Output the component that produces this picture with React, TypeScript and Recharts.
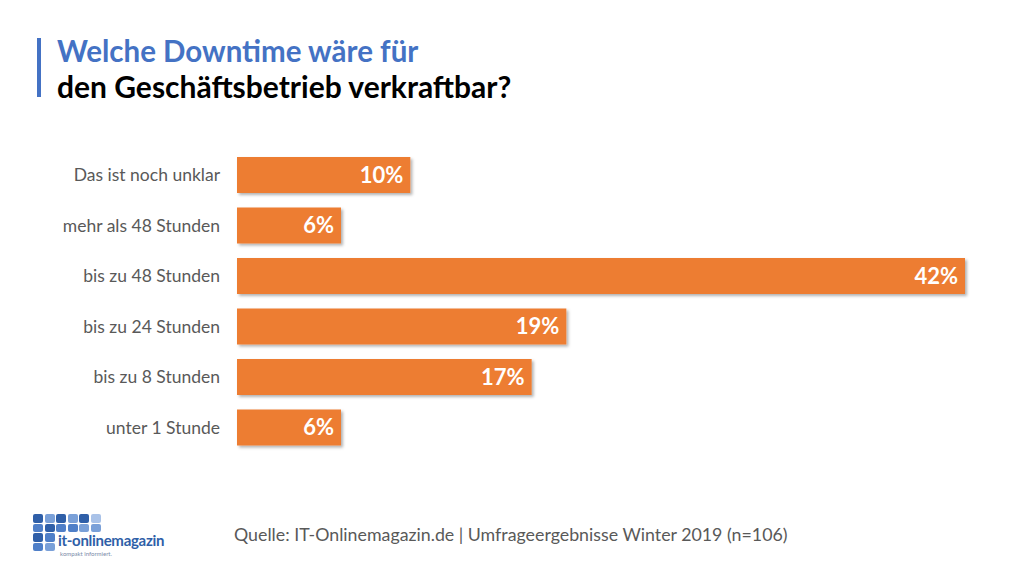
import { BarChart, Bar, XAxis, YAxis, LabelList } from "recharts";

const categories = [
  "Das ist noch unklar",
  "mehr als 48 Stunden",
  "bis zu 48 Stunden",
  "bis zu 24 Stunden",
  "bis zu 8 Stunden",
  "unter 1 Stunde",
];
const shares = [10, 6, 42, 19, 17, 6];

const data = categories.map((name, i) => ({ name, value: shares[i] }));

const FONT = "Lato, 'Open Sans', sans-serif";

// logo square shades, row by row
const logoRows = [
  ["#2f5fa8", "#7aa0d8", "#2f5fa8", "#7aa0d8", "#2f5fa8", "#a9c2e8"],
  ["#4f7fc8", "#2f5fa8", "#4f7fc8", "#4f7fc8", "#7aa0d8", "#7aa0d8"],
  ["#2f5fa8", "#4f7fc8"],
  ["#4f7fc8", "#7aa0d8"],
];

const Logo = () => (
  <div style={{ position: "absolute", left: 33, top: 514, width: 140, height: 44 }}>
    {logoRows.map((row, r) =>
      row.map((c, i) => (
        <div
          key={r + "-" + i}
          style={{
            position: "absolute",
            left: i * 11.5,
            top: r * 9.5,
            width: 10,
            height: 8.5,
            borderRadius: 2,
            background: c,
          }}
        />
      ))
    )}
    <div
      style={{
        position: "absolute",
        left: 25,
        top: 17,
        fontFamily: FONT,
        fontWeight: 700,
        fontSize: 15,
        color: "#2f5fa8",
        letterSpacing: -0.3,
        whiteSpace: "nowrap",
      }}
    >
      it-onlinemagazin
    </div>
    <div
      style={{
        position: "absolute",
        left: 27,
        top: 36,
        fontFamily: FONT,
        fontSize: 6,
        color: "#7a8aa8",
        whiteSpace: "nowrap",
      }}
    >
      kompakt informiert.
    </div>
  </div>
);

export default function App() {
  return (
    <div
      style={{
        position: "absolute",
        left: 0,
        top: 0,
        width: 1024,
        height: 576,
        background: "#ffffff",
        overflow: "hidden",
      }}
    >
      <div
        style={{
          position: "absolute",
          left: 37,
          top: 38,
          width: 4,
          height: 59,
          background: "#4472c4",
        }}
      />
      <div
        style={{
          position: "absolute",
          left: 57,
          top: 32,
          fontFamily: FONT,
          fontWeight: 700,
          fontSize: 29.5,
          lineHeight: "37px",
          color: "#4472c4",
          whiteSpace: "nowrap",
        }}
      >
        Welche Downtime wäre für
      </div>
      <div
        style={{
          position: "absolute",
          left: 57,
          top: 68,
          fontFamily: FONT,
          fontWeight: 700,
          fontSize: 30,
          lineHeight: "37px",
          color: "#000000",
          whiteSpace: "nowrap",
        }}
      >
        den Geschäftsbetrieb verkraftbar?
      </div>

      <div style={{ position: "absolute", left: 0, top: 0 }}>
        <BarChart
          width={1024}
          height={576}
          data={data}
          layout="vertical"
          barSize={36}
          margin={{ top: 150, right: 59, bottom: 123, left: 0 }}
        >
          <defs>
            <filter id="barShadow" x="-5%" y="-20%" width="110%" height="150%">
              <feDropShadow dx="2" dy="2" stdDeviation="1.5" floodColor="#000" floodOpacity="0.3" />
            </filter>
          </defs>
          <XAxis type="number" domain={[0, 42]} hide />
          <YAxis
            type="category"
            dataKey="name"
            width={237}
            axisLine={false}
            tickLine={false}
            tickSize={0}
            tickMargin={17}
            tick={{ fill: "#595959", fontSize: 17.5, fontFamily: FONT }}
          />
          <Bar
            dataKey="value"
            fill="#ed7d31"
            isAnimationActive={false}
            style={{ filter: "url(#barShadow)" }}
          >
            <LabelList
              dataKey="value"
              position="insideRight"
              offset={7}
              formatter={(v: number) => `${v}%`}
              fill="#ffffff"
              fontSize={22}
              fontWeight={700}
              fontFamily={FONT}
            />
          </Bar>
        </BarChart>
      </div>

      <Logo />
      <div
        style={{
          position: "absolute",
          left: 234,
          top: 523,
          fontFamily: FONT,
          fontSize: 17.8,
          color: "#595959",
          whiteSpace: "nowrap",
        }}
      >
        Quelle: IT-Onlinemagazin.de | Umfrageergebnisse Winter 2019 (n=106)
      </div>
    </div>
  );
}
